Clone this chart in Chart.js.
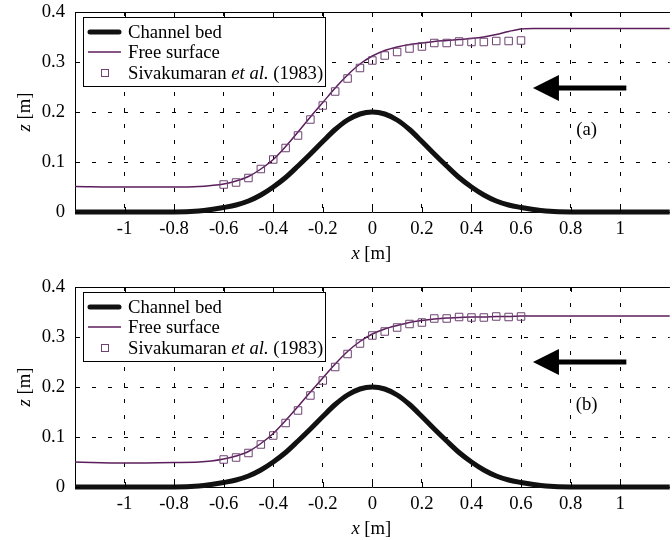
<!DOCTYPE html>
<html>
<head>
<meta charset="utf-8">
<script src="https://cdn.jsdelivr.net/npm/chart.js@4.4.0/dist/chart.umd.min.js"></script>
<style>
  html, body { margin: 0; padding: 0; background: #fff; overflow: hidden; }
  body { width: 672px; height: 540px; position: relative; }
  canvas { position: absolute; left: 0; }
  #chartA { top: 0; }
  #chartB { top: 275px; }
</style>
</head>
<body>
<canvas id="chartA" width="676" height="275"></canvas>
<canvas id="chartB" width="676" height="275"></canvas>
<script>
// axis ticks
const xTicks = [-1, -0.8, -0.6, -0.4, -0.2, 0, 0.2, 0.4, 0.6, 0.8, 1];
const zTicks = [0, 0.1, 0.2, 0.3, 0.4];

// computed profiles (channel bed + free surface)
const profileX = [-1.2, -1.0, -0.8, -0.7, -0.65, -0.6, -0.55, -0.5, -0.45, -0.4, -0.35, -0.3, -0.25, -0.2, -0.15, -0.1, -0.05,
  0, 0.05, 0.1, 0.15, 0.2, 0.25, 0.3, 0.35, 0.4, 0.45, 0.5, 0.55, 0.6, 0.65, 0.7, 0.8, 1.0, 1.2];
const bedZ = [0, 0, 0, 0.002, 0.005, 0.009, 0.014, 0.022, 0.034, 0.050, 0.069, 0.092, 0.116, 0.141, 0.165, 0.184, 0.196,
  0.200, 0.196, 0.184, 0.165, 0.141, 0.116, 0.092, 0.069, 0.050, 0.034, 0.022, 0.014, 0.009, 0.005, 0.002, 0, 0, 0];
const surfaceA = [0.051, 0.050, 0.050, 0.051, 0.053, 0.056, 0.062, 0.071, 0.086, 0.105, 0.131, 0.160, 0.190, 0.219, 0.248, 0.274, 0.296,
  0.312, 0.323, 0.330, 0.335, 0.338, 0.341, 0.343, 0.345, 0.347, 0.350, 0.355, 0.361, 0.366, 0.367, 0.367, 0.367, 0.367, 0.367];
const surfaceB = [0.050, 0.048, 0.049, 0.050, 0.052, 0.056, 0.062, 0.071, 0.087, 0.107, 0.133, 0.161, 0.190, 0.218, 0.246, 0.271, 0.291,
  0.306, 0.316, 0.323, 0.329, 0.333, 0.336, 0.338, 0.339, 0.340, 0.340, 0.341, 0.341, 0.342, 0.342, 0.342, 0.342, 0.342, 0.342];

// Sivakumaran et al. (1983) measurements
const measuredX = [-0.6, -0.55, -0.5, -0.45, -0.4, -0.35, -0.3, -0.25, -0.2, -0.15, -0.1, -0.05, 0,
  0.05, 0.1, 0.15, 0.2, 0.25, 0.3, 0.35, 0.4, 0.45, 0.5, 0.55, 0.6];
const measuredA = [0.055, 0.059, 0.068, 0.086, 0.105, 0.128, 0.153, 0.185, 0.213, 0.241, 0.267, 0.288, 0.303,
  0.313, 0.320, 0.327, 0.331, 0.338, 0.338, 0.341, 0.340, 0.340, 0.342, 0.342, 0.343];
const measuredB = [0.055, 0.059, 0.068, 0.085, 0.103, 0.128, 0.153, 0.183, 0.213, 0.240, 0.266, 0.287, 0.303,
  0.311, 0.319, 0.326, 0.329, 0.337, 0.337, 0.340, 0.339, 0.339, 0.341, 0.340, 0.341];

const FONT = '"Liberation Serif", "Times New Roman", serif';
const FSIZE = 18.7;
const PURPLE = "#5b1d5c";
const MARKER = "#6d4270";

const toPoints = (xs, zs) => xs.map((x, i) => ({ x: x, y: zs[i] }));

// draws a label where part of the text is italic
const drawMixed = (ctx, parts, x, y, align) => {
  let total = 0;
  for (const p of parts) {
    ctx.font = (p.italic ? "italic " : "") + FSIZE + "px " + FONT;
    p.w = ctx.measureText(p.text).width;
    total += p.w;
  }
  let cx = align === "center" ? x - total / 2 : x;
  for (const p of parts) {
    ctx.font = (p.italic ? "italic " : "") + FSIZE + "px " + FONT;
    ctx.fillText(p.text, cx, y);
    cx += p.w;
  }
};

const decorPlugin = {
  id: "decor",
  afterDatasetsDraw(chart, args, opts) {
    const { ctx, chartArea: area } = chart;
    const xs = chart.scales.x;
    const ys = chart.scales.y;
    ctx.save();
    ctx.fillStyle = "#000";
    ctx.strokeStyle = "#000";
    ctx.textBaseline = "middle";
    ctx.textAlign = "left";

    // top frame line and inward ticks
    ctx.lineWidth = 1;
    ctx.beginPath();
    ctx.moveTo(area.left, area.top + 0.5);
    ctx.lineTo(area.right, area.top + 0.5);
    for (const v of xTicks) {
      const px = Math.round(xs.getPixelForValue(v)) + 0.5;
      ctx.moveTo(px, area.bottom);
      ctx.lineTo(px, area.bottom - 5);
      ctx.moveTo(px, area.top);
      ctx.lineTo(px, area.top + 5);
    }
    for (const v of zTicks) {
      const py = Math.round(ys.getPixelForValue(v)) + 0.5;
      ctx.moveTo(area.left, py);
      ctx.lineTo(area.left + 5, py);
    }
    ctx.stroke();

    // flow direction arrow
    const tail = xs.getPixelForValue(opts.arrowFrom);
    const tip = xs.getPixelForValue(opts.arrowTo);
    const ay = ys.getPixelForValue(opts.arrowZ);
    ctx.lineWidth = 5;
    ctx.beginPath();
    ctx.moveTo(tail, ay);
    ctx.lineTo(tip + 22, ay);
    ctx.stroke();
    ctx.beginPath();
    ctx.moveTo(tip, ay);
    ctx.lineTo(tip + 26, ay - 13);
    ctx.lineTo(tip + 26, ay + 13);
    ctx.closePath();
    ctx.fill();

    // panel label
    ctx.font = FSIZE + "px " + FONT;
    ctx.textAlign = "center";
    ctx.fillText(opts.label, xs.getPixelForValue(opts.labelX), ys.getPixelForValue(opts.labelZ));

    // axis titles
    ctx.textAlign = "left";
    drawMixed(ctx, [{ text: "x", italic: true }, { text: " [m]" }], (area.left + area.right) / 2 - 1, xs.top + 42.5, "center");
    ctx.save();
    ctx.translate(25, (area.top + area.bottom) / 2);
    ctx.rotate(-Math.PI / 2);
    drawMixed(ctx, [{ text: "z", italic: true }, { text: " [m]" }], 0, 0, "center");
    ctx.restore();

    // legend
    const ds = chart.data.datasets;
    const lx = area.left + 8;
    const ly = area.top + 5;
    ctx.fillStyle = "#fff";
    ctx.fillRect(lx, ly, 242, 69);
    ctx.lineWidth = 1;
    ctx.strokeStyle = "#000";
    ctx.strokeRect(lx + 0.5, ly + 0.5, 242, 69);
    const rows = [ly + 15, ly + 35, ly + 56];
    ctx.lineCap = "round";
    ctx.strokeStyle = ds[0].borderColor;
    ctx.lineWidth = ds[0].borderWidth;
    ctx.beginPath();
    ctx.moveTo(lx + 7, rows[0]);
    ctx.lineTo(lx + 36, rows[0]);
    ctx.stroke();
    ctx.lineCap = "butt";
    ctx.strokeStyle = ds[1].borderColor;
    ctx.lineWidth = ds[1].borderWidth;
    ctx.beginPath();
    ctx.moveTo(lx + 5, rows[1]);
    ctx.lineTo(lx + 38, rows[1]);
    ctx.stroke();
    ctx.strokeStyle = ds[2].borderColor;
    ctx.lineWidth = 1;
    ctx.strokeRect(lx + 18.5, rows[2] - 3.5, 7, 7);
    ctx.fillStyle = "#000";
    drawMixed(ctx, [{ text: "Channel bed" }], lx + 45, rows[0] + 1);
    drawMixed(ctx, [{ text: "Free surface" }], lx + 45, rows[1] + 1);
    drawMixed(ctx, [{ text: "Sivakumaran " }, { text: "et al.", italic: true }, { text: " (1983)" }], lx + 45, rows[2] + 1);
    ctx.restore();
  },
};

const makeChart = (id, surface, measured, label, arrowZ) => {
  return new Chart(document.getElementById(id), {
    type: "line",
    data: {
      datasets: [
        {
          label: "Channel bed",
          data: toPoints(profileX, bedZ),
          borderColor: "#111",
          borderWidth: 5,
          pointRadius: 0,
          cubicInterpolationMode: "monotone",
          clip: false,
          order: 2,
        },
        {
          label: "Free surface",
          data: toPoints(profileX, surface),
          borderColor: PURPLE,
          borderWidth: 1.5,
          pointRadius: 0,
          cubicInterpolationMode: "monotone",
          clip: false,
          order: 1,
        },
        {
          label: "Sivakumaran et al. (1983)",
          data: toPoints(measuredX, measured),
          showLine: false,
          pointStyle: "rect",
          pointRadius: 5.3,
          borderColor: MARKER,
          backgroundColor: "rgba(0,0,0,0)",
          borderWidth: 1,
          clip: false,
          order: 0,
        },
      ],
    },
    options: {
      responsive: false,
      animation: false,
      events: [],
      layout: { padding: { top: 12, right: 2, left: 0, bottom: 0 } },
      plugins: {
        legend: { display: false },
        tooltip: { enabled: false },
        decor: { label: label, arrowZ: arrowZ, arrowFrom: 1.025, arrowTo: 0.648, labelX: 0.865, labelZ: 0.164 },
      },
      scales: {
        x: {
          type: "linear",
          min: -1.2,
          max: 1.2,
          afterBuildTicks: (s) => { s.ticks = xTicks.map((v) => ({ value: v })); },
          afterFit: (s) => { s.height = 63; s.paddingLeft = 0; s.paddingRight = 0; },
          ticks: { color: "#000", font: { family: FONT, size: FSIZE }, padding: 6, maxRotation: 0, callback: (v) => String(v) },
          grid: { color: "#000", lineWidth: 1, drawTicks: false },
          border: { color: "#000", width: 1, dash: [4, 12] },
        },
        y: {
          min: 0,
          max: 0.4,
          afterBuildTicks: (s) => { s.ticks = zTicks.map((v) => ({ value: v })); },
          afterFit: (s) => { s.width = 75; s.paddingTop = 0; s.paddingBottom = 0; },
          ticks: { color: "#000", font: { family: FONT, size: FSIZE }, padding: 10, callback: (v) => (v === 0 ? "0" : v.toFixed(1)) },
          grid: { color: "#000", lineWidth: 1, drawTicks: false },
          border: { color: "#000", width: 1, dash: [4, 12] },
        },
      },
    },
    plugins: [decorPlugin],
  });
};

makeChart("chartA", surfaceA, measuredA, "(a)", 0.248);
makeChart("chartB", surfaceB, measuredB, "(b)", 0.25);
</script>
</body>
</html>
